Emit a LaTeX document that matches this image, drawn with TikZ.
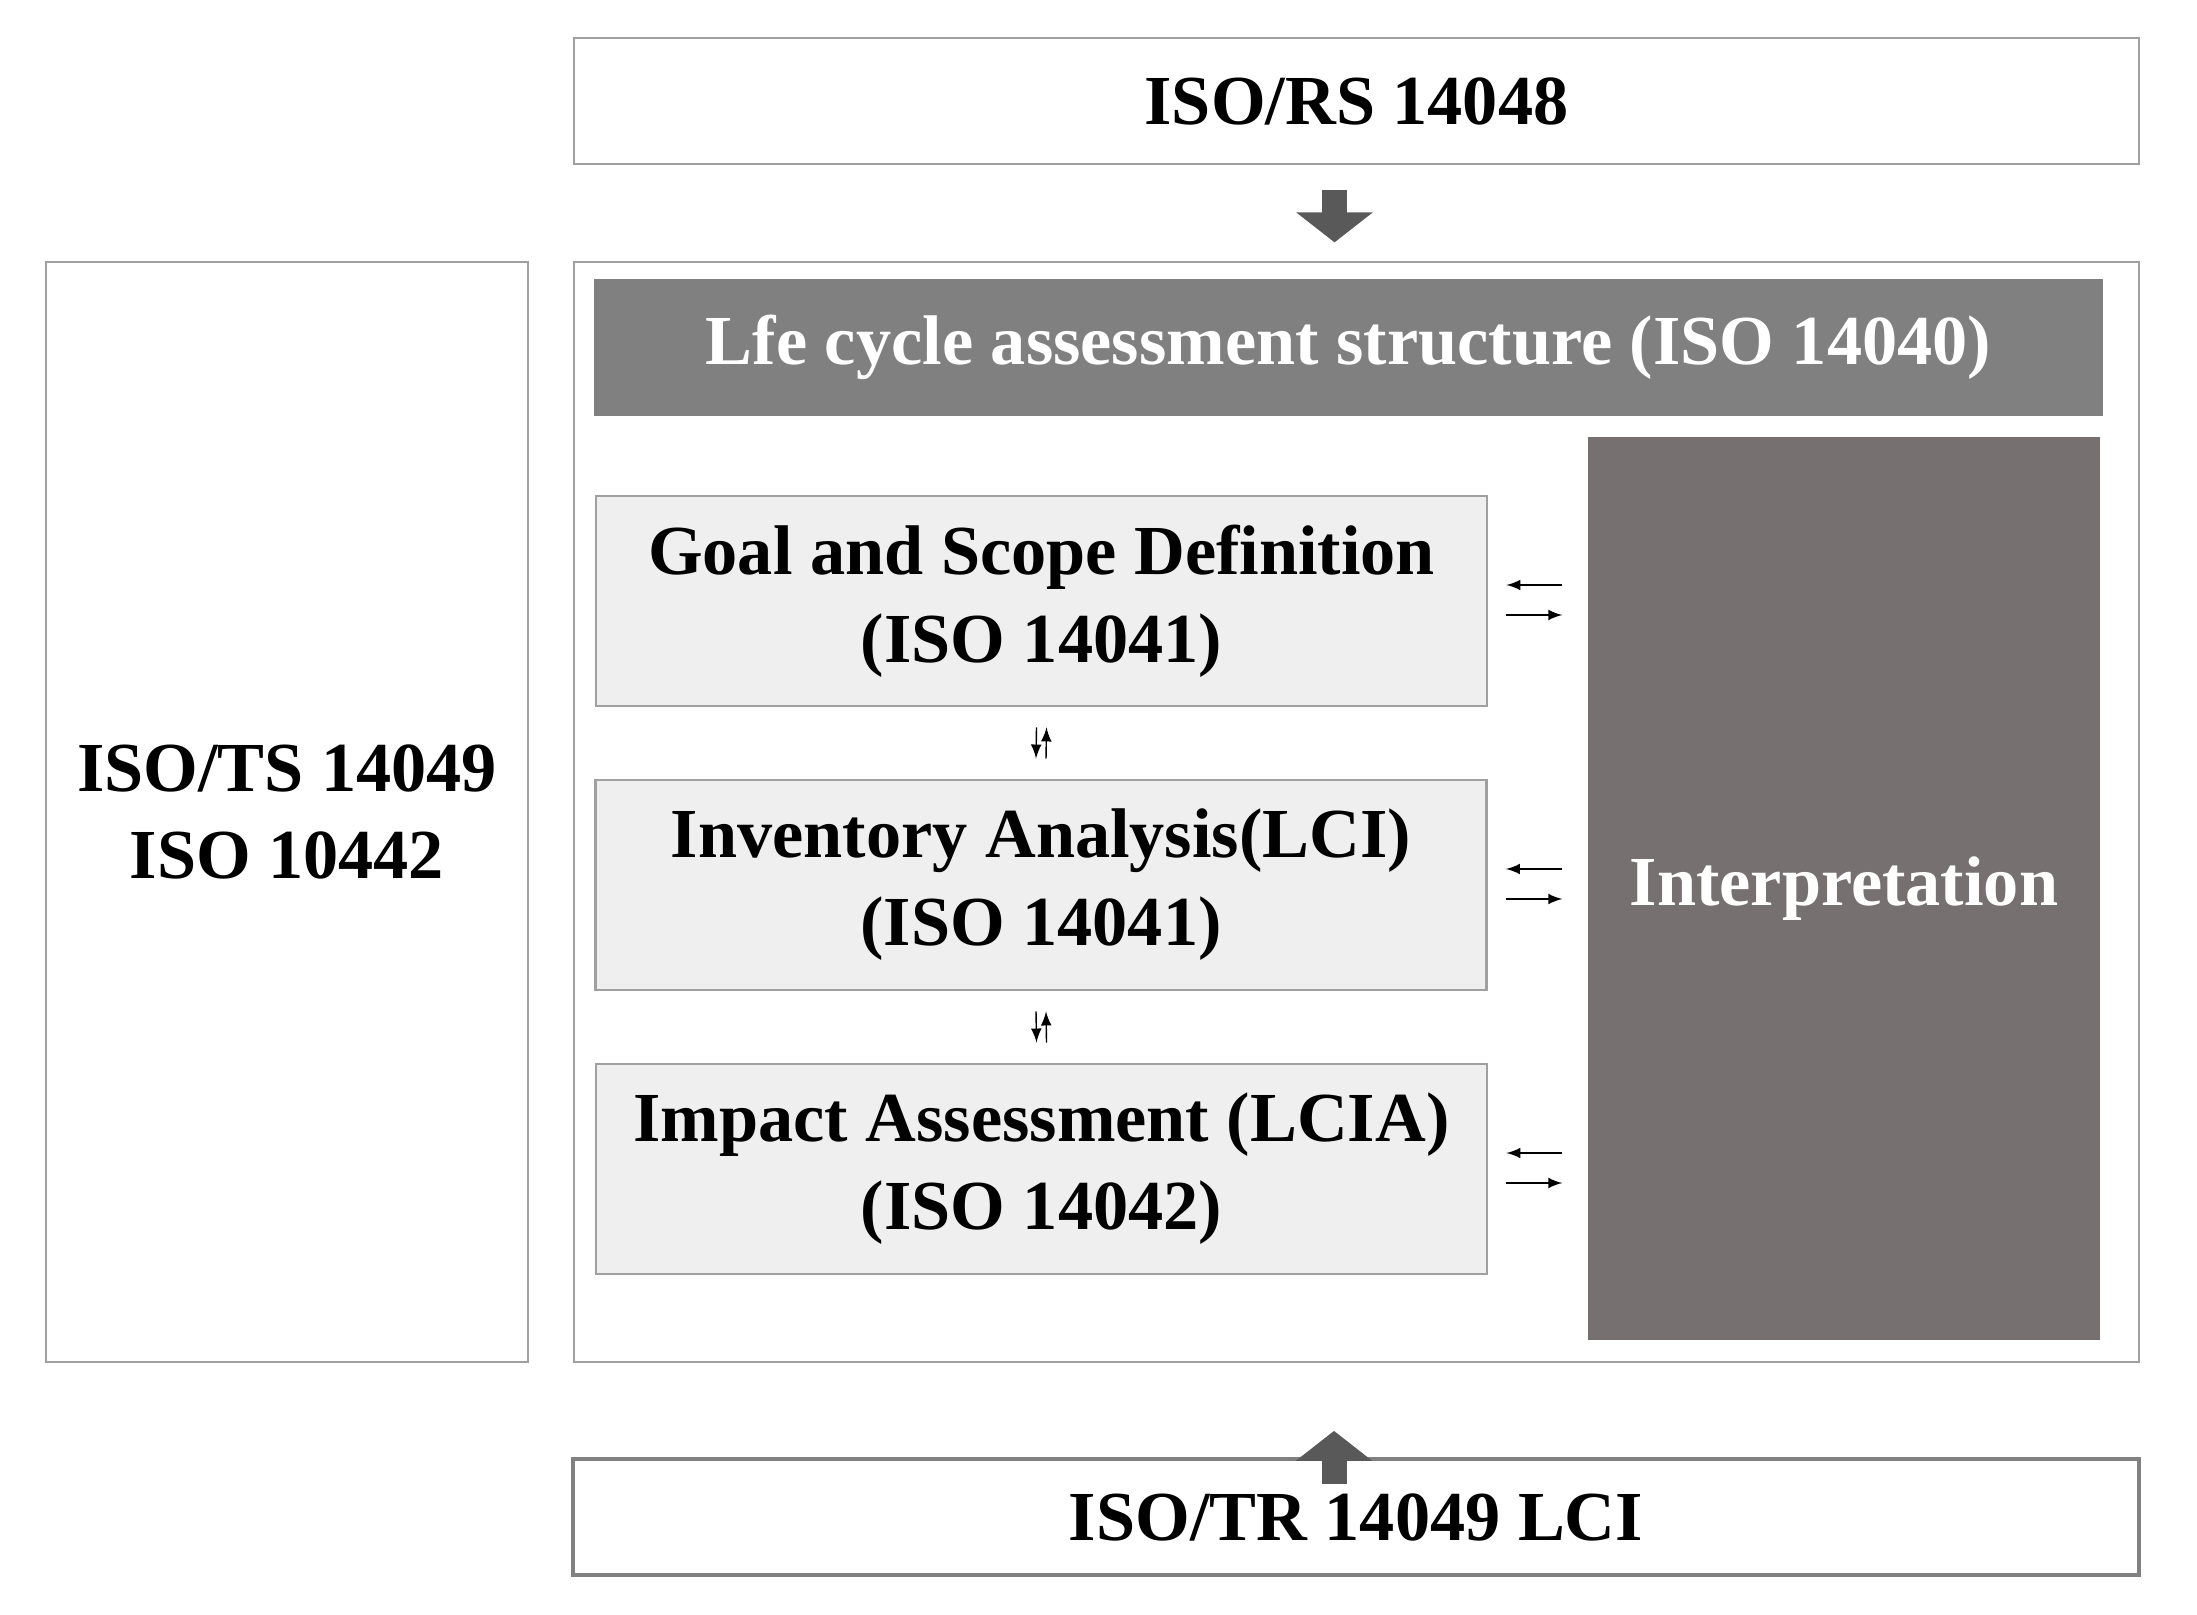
\documentclass[tikz,border=0pt]{standalone}
\usepackage{fontspec}
\setmainfont{Liberation Serif}
\usetikzlibrary{positioning, arrows.meta}
\definecolor{barGray}{HTML}{808080}
\definecolor{interpGray}{HTML}{767070}
\definecolor{stepFill}{HTML}{EFEFEF}
\definecolor{lineGray}{HTML}{A0A0A0}
\definecolor{bigArrow}{HTML}{595959}
\begin{document}
\begin{tikzpicture}[
frame/.style={rectangle, draw=lineGray, thick, fill=white, font=\bfseries\fontsize{20}{25}\selectfont, align=center},
stepbox/.style={rectangle, draw=lineGray, thick, fill=stepFill, minimum width=8.91cm, minimum height=2.1cm, font=\bfseries\fontsize{20}{25}\selectfont, align=center},
fat/.style={line width=0.25cm, draw=bigArrow},
small/.style={->, >=latex, thin}
]
\useasboundingbox (0,0) rectangle (21.97,-16.15);
%Boxes
\node[frame, minimum width=15.65cm, minimum height=1.26cm] (RS) at (13.565,-1.01) {ISO/RS 14048};
\node[frame, minimum width=4.82cm, minimum height=11cm] (TS) at (2.87,-8.12) {ISO/TS 14049\\ISO 10442};
\node[frame, minimum width=15.65cm, minimum height=11cm] (Main) at (13.565,-8.12) {};
\node[rectangle, fill=barGray, text=white, minimum width=15.09cm, minimum height=1.37cm, font=\bfseries\fontsize{20}{25}\selectfont] (Title) at (13.485,-3.475) {Lfe cycle assessment structure (ISO 14040)};
\node[rectangle, fill=interpGray, text=white, minimum width=5.12cm, minimum height=9.03cm, font=\bfseries\fontsize{20}{25}\selectfont] (Interp) at (18.44,-8.885) {Interpretation};
\node[stepbox] (Goal) at (10.415,-6.01) {Goal and Scope Definition\\(ISO 14041)};
\node[stepbox] (Inv) at (10.41,-8.85) {Inventory Analysis(LCI)\\(ISO 14041)};
\node[stepbox] (Imp) at (10.415,-11.69) {Impact Assessment (LCIA)\\(ISO 14042)};
\node[frame, draw=gray, line width=1.2pt, minimum width=15.66cm, minimum height=1.16cm] (TR) at (13.56,-15.17) {ISO/TR 14049 LCI};

%Big arrows
\draw[fat, -{Triangle[width=0.75cm,length=0.3cm]}] (RS.south) ++(-0.22,-0.25) coordinate (a1) -- ++(0,-0.52);
\draw[fat, -{Triangle[width=0.75cm,length=0.3cm]}] (TR.north) ++(-0.22,-0.27) coordinate (a2) -- ++(0,0.53);

%Small arrows
\foreach \up/\dn in {Goal/Inv, Inv/Imp}{
  \draw[small] ([xshift=-0.05cm,yshift=-0.2cm]\up.south) -- ([xshift=-0.05cm,yshift=0.2cm]\dn.north);
  \draw[small] ([xshift=0.05cm,yshift=0.2cm]\dn.north) -- ([xshift=0.05cm,yshift=-0.2cm]\up.south);
}
\foreach \b in {Goal, Inv, Imp}{
  \draw[small] ([xshift=-0.25cm,yshift=0.16cm]Interp.west |- \b.east) -- ([xshift=0.18cm,yshift=0.16cm]\b.east);
  \draw[small] ([xshift=0.18cm,yshift=-0.14cm]\b.east) -- ([xshift=-0.25cm,yshift=-0.14cm]Interp.west |- \b.east);
}
\end{tikzpicture}
\end{document}
